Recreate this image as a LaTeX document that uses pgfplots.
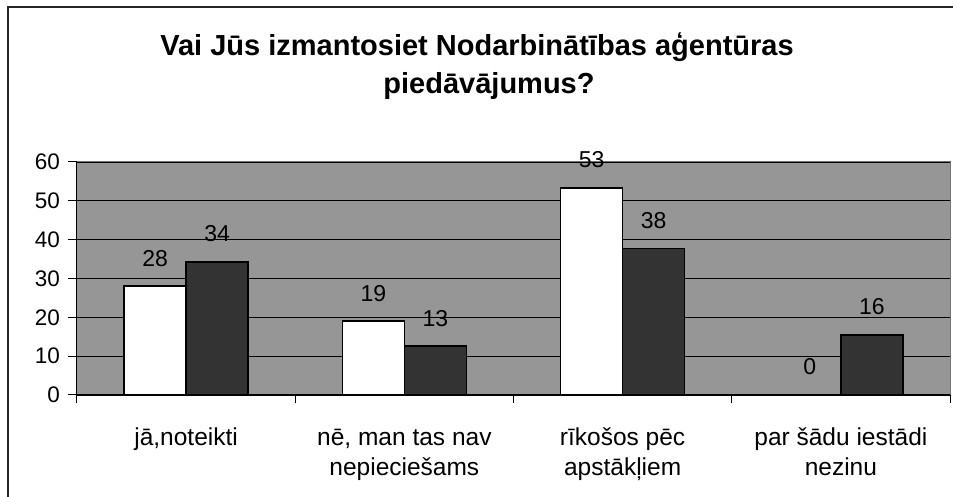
\documentclass[border=0pt]{standalone}
\usepackage{fontspec}
\setmainfont{Liberation Sans}
\usepackage{pgfplots}
\pgfplotsset{compat=1.18}
\definecolor{plotgray}{HTML}{969696}
\definecolor{bardark}{HTML}{333333}
\begin{document}
\begin{tikzpicture}
\useasboundingbox (0pt,0pt) rectangle (953pt,497pt);
\fill[white] (0pt,0pt) rectangle (953pt,497pt);
\draw[line width=1.5pt, black!85] (8pt,-10pt) -- (8pt,490pt) -- (970pt,490pt);
\node[font=\fontsize{29}{34}\selectfont\bfseries, anchor=base, inner sep=0pt] at (477pt,441pt) {Vai Jūs izmantosiet Nodarbinātības aģentūras};
\node[font=\fontsize{29}{34}\selectfont\bfseries, anchor=base, inner sep=0pt] at (489pt,403pt) {piedāvājumus?};
\begin{axis}[
  at={(77pt,335pt)}, anchor=north west,
  scale only axis, width=873pt, height=233pt,
  xmin=-0.5, xmax=3.5, ymin=0, ymax=60,
  ybar=0pt, bar width=0.284,
  axis background/.style={fill=plotgray, draw=black!55, line width=1pt},
  axis x line=bottom, axis y line=left,
  axis line style={-, black, line width=1pt},
  ytick={0,10,20,30,40,50,60}, yticklabels={0,10,20,30,40,50,60},
  ymajorgrids, grid style={black, line width=0.9pt},
  xtick={0,1,2,3},
  xticklabels={{\strut jā,noteikti},{\strut nē, man tas nav\\nepieciešams},{\strut rīkošos pēc\\apstākļiem},{\strut par šādu iestādi\\nezinu}},
  minor xtick={-0.5,0.5,1.5,2.5,3.5},
  major x tick style={draw=none},
  tick align=outside,
  major tick length=9pt, minor tick length=8pt,
  tick style={black, line width=1pt},
  minor x tick style={black, line width=1pt},
  xticklabel style={font=\fontsize{24.5}{30}\selectfont, align=center, inner sep=0pt, anchor=north, yshift=-20pt},
  yticklabel style={font=\fontsize{22.5}{26}\selectfont, inner sep=0pt, anchor=east, xshift=-8pt},
  nodes near coords, point meta=explicit symbolic,
  every node near coord/.append style={font=\fontsize{23}{27}\selectfont, inner sep=0pt, anchor=south, yshift=19pt, black},
]
\addplot[fill=white, draw=black, line width=1.6pt] coordinates {(0,28) [28] (1,19) [19] (2,53.3) [53] (3,0) [0]};
\addplot[fill=bardark, draw=black, line width=1.6pt] coordinates {(0,34.3) [34] (1,12.6) [13] (2,37.7) [38] (3,15.5) [16]};
\end{axis}
\end{tikzpicture}
\end{document}
